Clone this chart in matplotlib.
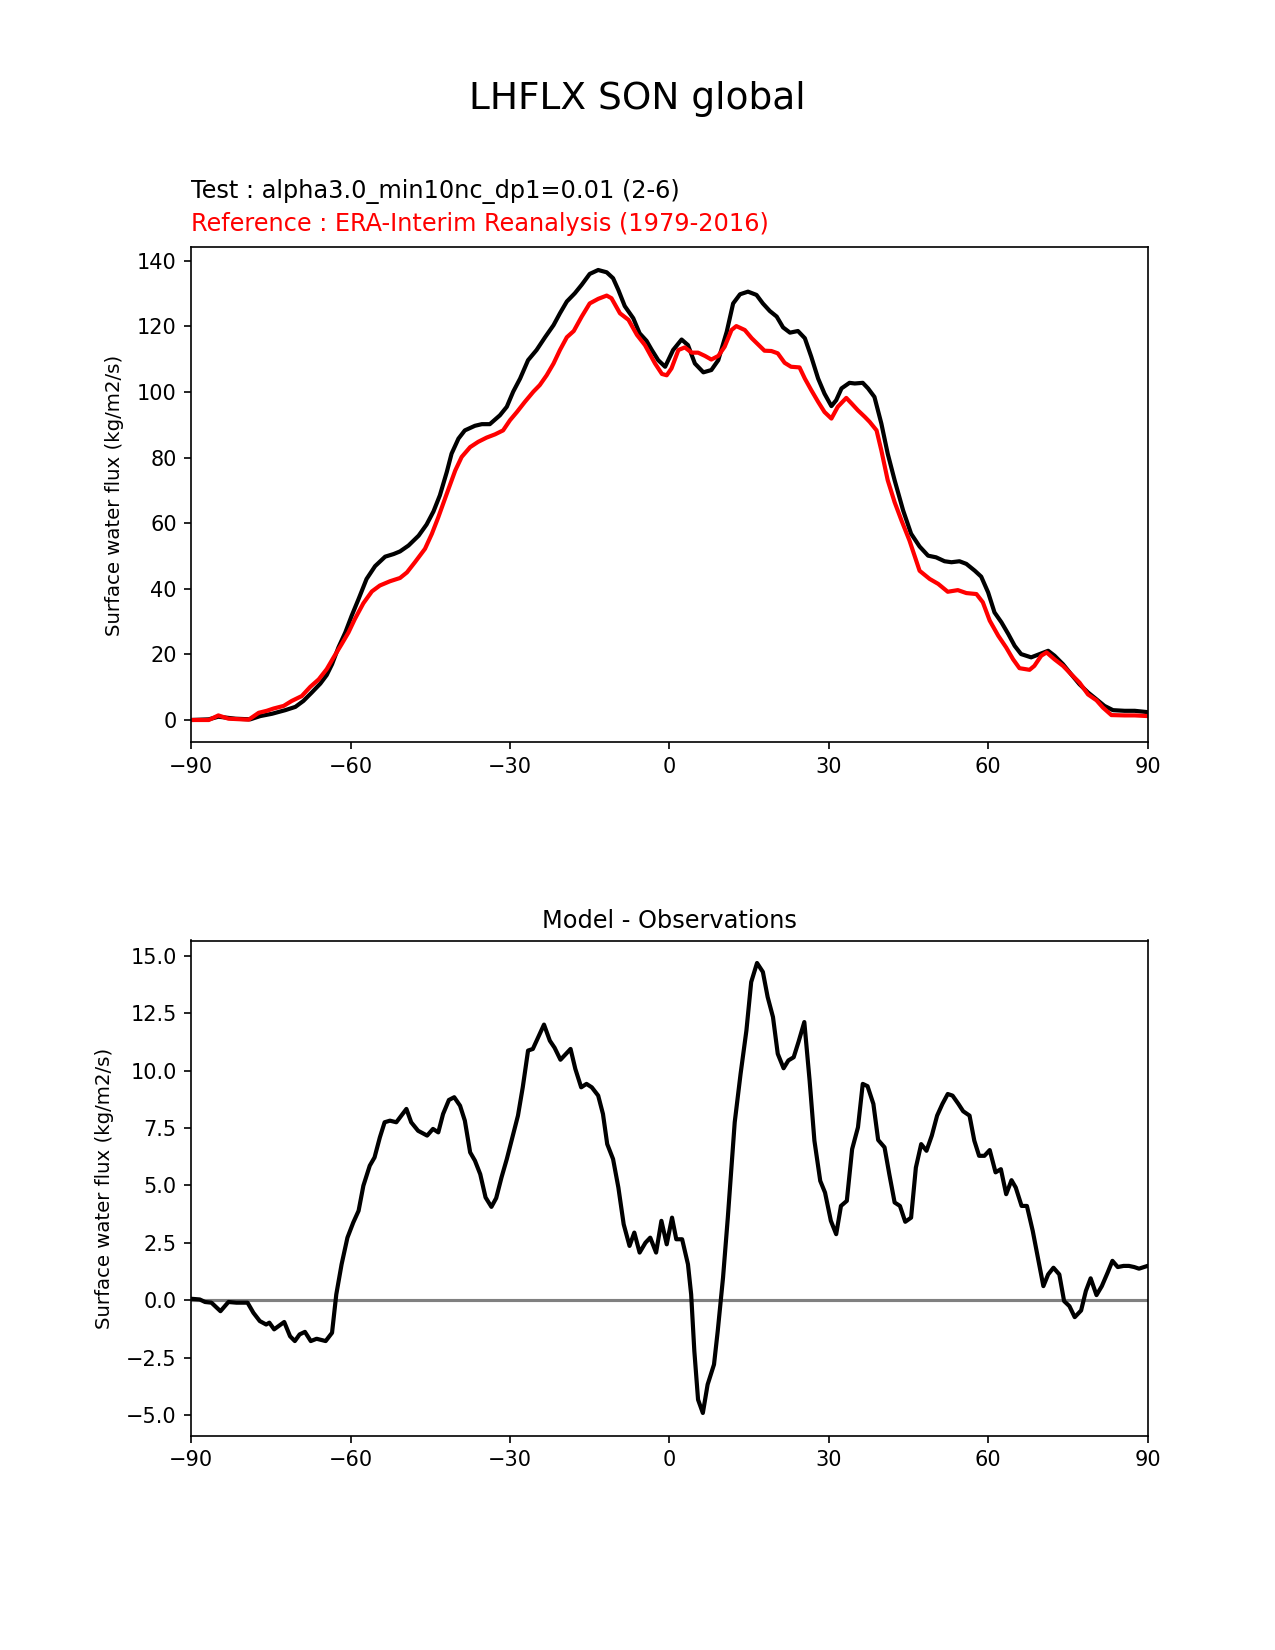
import matplotlib
matplotlib.use("Agg")
import matplotlib.pyplot as plt

# ---- data -------------------------------------------------------------
lat_test = [-90, -86.7, -84.9, -81.7, -78.9, -77, -74.8, -72.3, -70.4, -68.9,
            -67.3, -65.7, -64.5, -63.5, -62.3, -61, -59.8, -58.5, -57, -55.4,
            -53.5, -51.9, -50.7, -49.1, -47.2, -45.7, -44.4, -43.2, -41.9, -41,
            -39.7, -38.5, -36.6, -35.3, -33.8, -31.9, -30.6, -29.4, -28.1, -26.6,
            -25, -23.4, -21.8, -20.6, -19.3, -17.8, -16.5, -15, -13.4, -11.8,
            -10.6, -9.6, -8.4, -6.8, -5.6, -4.3, -3.3, -2.1, -0.8, 0.7,
            2.3, 3.5, 4.8, 6.4, 7.9, 9.2, 10.8, 12, 13.3, 14.8,
            16.4, 17.6, 18.9, 20.2, 21.4, 22.7, 24.2, 25.5, 26.7, 28,
            29.2, 30.5, 31.4, 32.4, 33.9, 34.9, 36.4, 37.4, 38.6, 39.9,
            41.1, 42.4, 44, 45.5, 47.1, 48.7, 50.2, 51.8, 53.1, 54.6,
            55.9, 57.5, 58.7, 60, 61.2, 62.5, 63.8, 65, 66.2, 68.1,
            69.7, 71.3, 72.5, 74.1, 75.6, 77.2, 78.8, 80.4, 81.9, 83.5,
            85.7, 87.6, 90]
test_vals = [0, 0.2, 1.0, 0.4, 0.2, 1.2, 1.9, 3.0, 4.0, 5.8,
             8.4, 11.1, 13.7, 17.0, 22.1, 26.7, 31.8, 36.9, 43.0, 46.9,
             49.8, 50.6, 51.4, 53.2, 56.2, 59.6, 63.6, 68.5, 75.6, 81.2,
             85.8, 88.3, 89.7, 90.2, 90.2, 92.9, 95.5, 100.1, 104.1, 109.7,
             112.8, 116.7, 120.4, 124.0, 127.6, 130.1, 132.7, 136.0, 137.2, 136.5,
             134.7, 131.1, 126.2, 122.5, 117.9, 115.6, 112.8, 109.7, 107.7, 112.8,
             116.0, 114.3, 108.7, 106.0, 106.7, 109.7, 118.4, 127.0, 129.8, 130.6,
             129.6, 127.0, 124.7, 123.0, 119.7, 118.1, 118.6, 116.4, 110.8, 104.1,
             99.5, 95.7, 97.5, 101.1, 102.8, 102.6, 102.8, 101.1, 98.5, 90.4,
             81.2, 73.1, 63.9, 56.8, 52.9, 50.1, 49.6, 48.4, 48.1, 48.4,
             47.6, 45.5, 43.7, 38.9, 32.8, 29.8, 26.2, 22.6, 20.1, 19.1,
             20.1, 21.1, 19.6, 17.0, 14.0, 10.9, 8.4, 6.3, 4.3, 3.0,
             2.8, 2.8, 2.4]

lat_ref = [-90, -86.7, -84.9, -83, -79.2, -77.3, -75.8, -74.5, -72.6, -71.1,
           -69.2, -67.6, -66, -64.5, -63.2, -61.7, -60.4, -59.2, -57.6, -56,
           -54.5, -52.6, -50.7, -49.4, -47.9, -46, -44.7, -43.5, -41.9, -40.3,
           -39.1, -37.5, -36, -34.4, -32.8, -31.3, -30, -28.7, -27.2, -25.6,
           -24.4, -23.1, -21.8, -20.6, -19.3, -18, -16.5, -15, -13.4, -11.8,
           -10.9, -9.3, -7.7, -6.1, -4.6, -2.7, -1.4, -0.5, 0.4, 1.7,
           2.9, 4.2, 5.4, 6.7, 7.9, 9.2, 10.4, 11.7, 12.6, 14.2,
           15.5, 16.7, 17.9, 19.2, 20.4, 21.7, 22.9, 24.5, 25.5, 26.7,
           28, 29.2, 30.5, 31.7, 33.3, 34.3, 35.5, 36.8, 37.7, 39,
           39.9, 41.1, 42.4, 43.7, 45.2, 47.1, 49, 50.6, 52.4, 54.3,
           55.9, 57.8, 59, 60.3, 61.9, 63.4, 64.7, 65.9, 67.8, 68.7,
           70, 71, 72.5, 74.1, 75.6, 77.2, 78.8, 80.4, 81.6, 83.2,
           85.7, 87.6, 90]
ref_vals = [0, 0, 1.4, 0.4, 0.1, 2.2, 2.8, 3.5, 4.3, 5.8,
            7.3, 10.1, 12.4, 15.5, 19.1, 23.1, 26.7, 30.8, 35.6, 39.2,
            41.0, 42.3, 43.3, 45.0, 48.1, 52.2, 56.8, 61.8, 69.0, 76.1,
            80.2, 83.2, 84.8, 86.1, 87.1, 88.3, 91.4, 93.9, 97.0, 100.1,
            102.1, 105.1, 108.7, 112.8, 116.7, 118.6, 123.0, 127.0, 128.4, 129.4,
            128.6, 124.0, 122.0, 117.4, 114.3, 108.7, 105.5, 105.1, 107.2, 112.8,
            113.6, 112.0, 112.0, 111.0, 109.9, 111.0, 113.8, 118.9, 120.1, 118.9,
            116.4, 114.5, 112.6, 112.5, 111.8, 108.9, 107.7, 107.5, 104.1, 100.6,
            97.0, 93.9, 91.9, 95.5, 98.2, 96.5, 94.4, 92.4, 90.9, 88.3,
            82.2, 73.1, 66.4, 60.8, 54.7, 45.5, 43.0, 41.5, 39.1, 39.6,
            38.7, 38.4, 35.9, 30.3, 25.7, 22.1, 18.5, 15.8, 15.3, 16.5,
            19.6, 20.6, 18.5, 16.5, 14.0, 11.4, 7.8, 6.0, 3.8, 1.5,
            1.4, 1.4, 1.2]

lat_diff = [-90, -88.4, -87.4, -86.2, -84.5, -83, -81.5, -79.4, -78.3, -77.1,
            -75.9, -75.3, -74.4, -72.5, -71.4, -70.5, -69.6, -68.6, -67.5, -66.4,
            -64.7, -63.5, -62.7, -61.7, -60.6, -59.5, -58.5, -57.6, -56.4, -55.5,
            -54.5, -53.6, -52.6, -51.4, -49.5, -48.6, -47.3, -45.6, -44.5, -43.5,
            -42.6, -41.5, -40.5, -39.4, -38.5, -37.5, -36.6, -35.6, -34.6, -33.5,
            -32.6, -31.6, -30.6, -29.4, -28.5, -27.6, -26.6, -25.7, -24.7, -23.6,
            -22.5, -21.6, -20.5, -18.6, -17.7, -16.6, -15.6, -14.6, -13.4, -12.5,
            -11.7, -10.6, -9.6, -8.6, -7.5, -6.6, -5.6, -4.5, -3.6, -2.5,
            -1.5, -0.5, 0.5, 1.3, 2.4, 3.5, 4.1, 4.7, 5.4, 6.3,
            7.2, 8.4, 9.1, 10.1, 11.0, 12.3, 13.4, 14.5, 15.4, 16.5,
            17.6, 18.5, 19.5, 20.4, 21.5, 22.4, 23.4, 24.3, 25.4, 26.4,
            27.3, 28.4, 29.3, 30.4, 31.4, 32.3, 33.4, 34.4, 35.5, 36.4,
            37.3, 38.4, 39.3, 40.5, 41.4, 42.4, 43.4, 44.4, 45.5, 46.4,
            47.4, 48.4, 49.4, 50.4, 51.4, 52.4, 53.3, 54.4, 55.3, 56.5,
            57.4, 58.3, 59.3, 60.3, 61.4, 62.4, 63.4, 64.4, 65.2, 66.3,
            67.3, 68.4, 69.3, 70.4, 71.3, 72.3, 73.4, 74.3, 75.3, 76.3,
            77.5, 78.4, 79.3, 80.4, 81.4, 82.5, 83.4, 84.4, 85.5, 86.5,
            87.5, 88.4, 90]
diff_vals = [0.07, 0.04, -0.07, -0.1, -0.47, -0.07, -0.1, -0.1, -0.54, -0.9,
             -1.05, -0.97, -1.26, -0.94, -1.56, -1.77, -1.48, -1.37, -1.77, -1.67,
             -1.77, -1.41, 0.26, 1.57, 2.73, 3.39, 3.9, 4.99, 5.86, 6.22,
             7.09, 7.75, 7.82, 7.75, 8.33, 7.75, 7.38, 7.17, 7.46, 7.31,
             8.11, 8.72, 8.84, 8.47, 7.82, 6.44, 6.08, 5.49, 4.48, 4.07,
             4.45, 5.35, 6.15, 7.24, 8.04, 9.27, 10.87, 10.94, 11.45, 12.0,
             11.3, 10.99, 10.47, 10.94, 10.07, 9.27, 9.42, 9.27, 8.91, 8.11,
             6.8, 6.15, 4.91, 3.31, 2.37, 2.95, 2.08, 2.51, 2.73, 2.08,
             3.46, 2.44, 3.6, 2.66, 2.66, 1.57, 0.26, -2.21, -4.32, -4.9,
             -3.66, -2.79, -1.34, 0.99, 3.6, 7.75, 9.85, 11.74, 13.85, 14.68,
             14.29, 13.2, 12.33, 10.73, 10.1, 10.44, 10.58, 11.24, 12.11, 9.56,
             6.95, 5.2, 4.69, 3.46, 2.88, 4.11, 4.33, 6.58, 7.53, 9.42,
             9.32, 8.55, 6.98, 6.66, 5.49, 4.26, 4.11, 3.42, 3.6, 5.78,
             6.8, 6.51, 7.17, 8.04, 8.55, 8.98, 8.91, 8.55, 8.23, 8.04,
             6.95, 6.29, 6.29, 6.54, 5.57, 5.71, 4.62, 5.23, 4.91, 4.11,
             4.11, 3.02, 1.93, 0.62, 1.13, 1.42, 1.13, -0.03, -0.25, -0.73,
             -0.44, 0.41, 0.96, 0.23, 0.62, 1.21, 1.72, 1.45, 1.5, 1.5,
             1.45, 1.38, 1.5]

xticks = [-90, -60, -30, 0, 30, 60, 90]
main_title = "LHFLX SON global"
test_label = "Test : alpha3.0_min10nc_dp1=0.01 (2-6)"
ref_label = "Reference : ERA-Interim Reanalysis (1979-2016)"
ylabel = "Surface water flux (kg/m2/s)"
diff_title = "Model - Observations"

# ---- figure -----------------------------------------------------------
plt.rcParams['font.family'] = ['DejaVu Sans']
fig = plt.figure(figsize=(8.5, 11), dpi=150)
fig.suptitle(main_title, x=0.5, y=0.951, fontsize=18)

ax1 = fig.add_axes([0.15, 0.55, 0.75, 0.30])
ax1.plot(lat_test, test_vals, color='black', linewidth=2)
ax1.plot(lat_ref, ref_vals, color='red', linewidth=2)
ax1.set_xlim(-90, 90)
ax1.set_xticks(xticks)
ax1.set_ylabel(ylabel, fontsize=9.5, labelpad=6)
fig.text(0.15, 0.88, test_label, ha='left', fontsize=11.5, color='black')
fig.text(0.15, 0.86, ref_label, ha='left', fontsize=11.5, color='red')

ax2 = fig.add_axes([0.15, 0.13, 0.75, 0.30])
ax2.axhline(y=0, color='0.5', linewidth=1.5)
ax2.plot(lat_diff, diff_vals, color='black', linewidth=2)
ax2.set_xlim(-90, 90)
ax2.set_xticks(xticks)
ax2.set_ylabel(ylabel, fontsize=9.5, labelpad=6)
ax2.set_title(diff_title, fontsize=11.5)

fig.savefig("out.png", dpi=150)
